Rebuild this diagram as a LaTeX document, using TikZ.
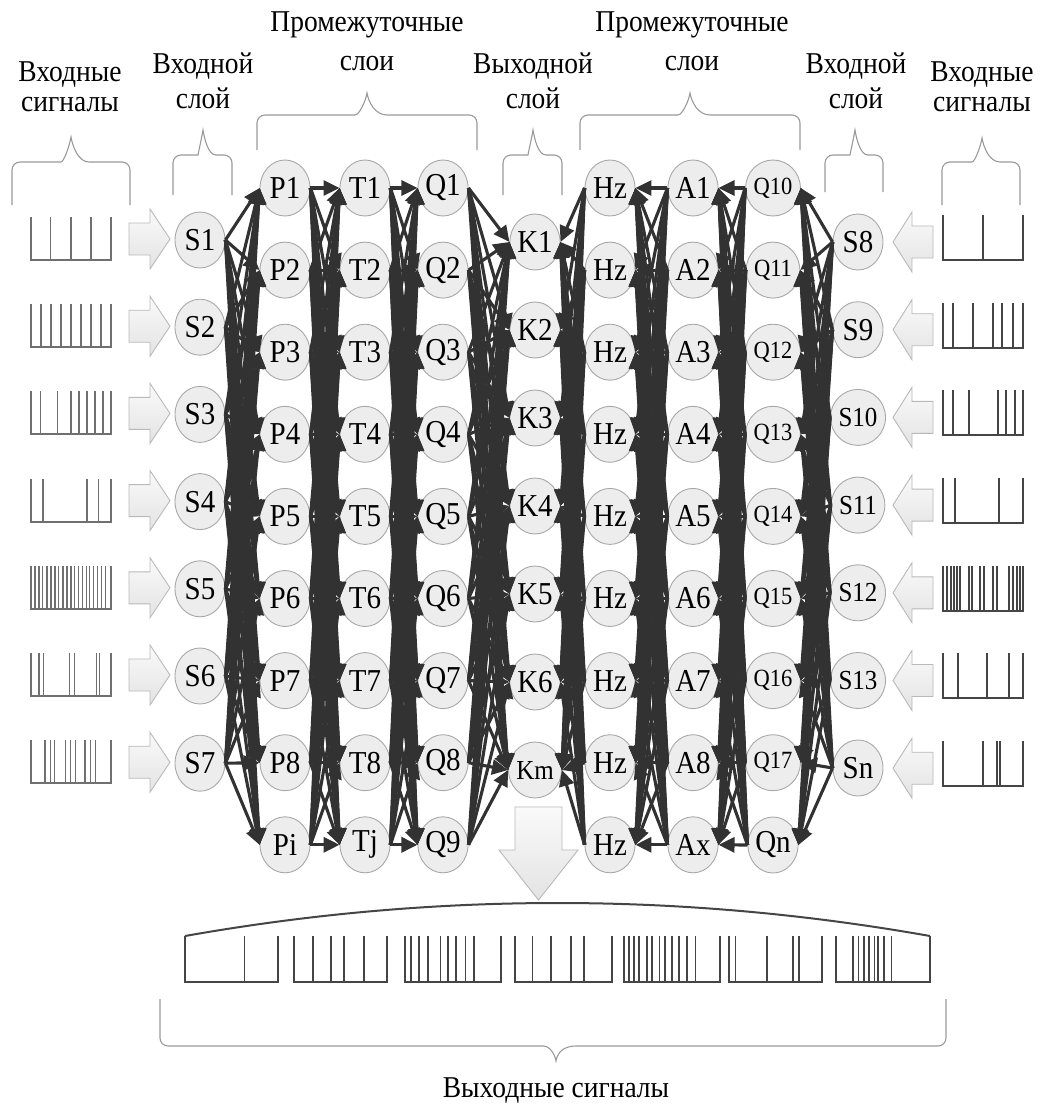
\documentclass[tikz,border=0pt]{standalone}
\usepackage{fontspec}
\setmainfont{Liberation Serif}
\usepackage{graphicx}
\usetikzlibrary{arrows.meta,shapes.geometric}
\definecolor{edgec}{HTML}{323232}
\definecolor{nodefill}{HTML}{EDEDED}
\definecolor{nodeline}{HTML}{A8A8A8}
\definecolor{bracec}{HTML}{9A9A9A}
\definecolor{sigl}{HTML}{707070}
\definecolor{sigd}{HTML}{454545}
\newcommand{\vs}[1]{\scalebox{1}[1.1]{#1}}
\newcommand{\nf}{\fontsize{29}{30}\selectfont}
\newcommand{\nfm}{\fontsize{25}{28}\selectfont}
\newcommand{\nfs}{\fontsize{22.5}{26}\selectfont}
\newcommand{\hf}{\fontsize{27.5}{30}\selectfont}
% style, x0, width, ytop, ybot, spike fractions
\newcommand{\mypulse}[6]{%
  \draw[#1] (#2,#4) -- (#2,#5) -- ({#2+#3},#5) -- ({#2+#3},#4);
  \foreach \ff in {#6} {\draw[#1] ({#2+\ff*#3},#5) -- ({#2+\ff*#3},#4);}
}
% xl, xr, xc, ybot, yh, ypeak, halfwidth
\newcommand{\bracetop}[7]{%
  \draw[brace] (#1,#4) [rounded corners=8pt] -- (#1,#5) -- ({#3-#7},#5) [sharp corners]
    .. controls ({#3-#7*0.4},#5) and ({#3-1.5},{#6+9}) .. (#3,#6)
    .. controls ({#3+1.5},{#6+9}) and ({#3+#7*0.4},#5) .. ({#3+#7},#5)
    [rounded corners=8pt] -- (#2,#5) -- (#2,#4);
}
\begin{document}
\begin{tikzpicture}[x=1pt,y=-1pt,
  neuron/.style={ellipse, minimum width=50pt, minimum height=56pt, inner sep=0pt,
    fill=nodefill, draw=nodeline, line width=0.9pt, font=\nf},
  hdr/.style={anchor=base, inner sep=0pt, font=\hf},
  edge/.style={draw=edgec, line width=3.1pt, -{Triangle[length=16pt,width=15pt]}},
  brace/.style={draw=bracec, line width=1.1pt},
  sigL/.style={draw=sigl, line width=1.3pt},
  sigR/.style={draw=sigd, line width=2pt},
  sigB/.style={draw=sigd, line width=1.8pt},
  blockarr/.style={draw=gray!55, line width=0.9pt, top color=gray!4, bottom color=gray!22}]
\useasboundingbox (0,0) rectangle (1045,1111);

% ---------- headers ----------
\node[hdr] (hA1) at (70,81) {\vs{Входные}};
\node[hdr] (hA2) at (70,111) {\vs{сигналы}};
\node[hdr] (hB1) at (203,73) {\vs{Входной}};
\node[hdr] (hB2) at (203,108) {\vs{слой}};
\node[hdr] (hC1) at (367,31) {\vs{Промежуточные}};
\node[hdr] (hC2) at (367,70) {\vs{слои}};
\node[hdr] (hD1) at (533,73) {\vs{Выходной}};
\node[hdr] (hD2) at (533,108) {\vs{слой}};
\node[hdr] (hE1) at (692,31) {\vs{Промежуточные}};
\node[hdr] (hE2) at (692,70) {\vs{слои}};
\node[hdr] (hF1) at (856,73) {\vs{Входной}};
\node[hdr] (hF2) at (856,108) {\vs{слой}};
\node[hdr] (hG1) at (982,81) {\vs{Входные}};
\node[hdr] (hG2) at (982,111) {\vs{сигналы}};
\node[hdr] (hOut) at (556,1097) {\vs{Выходные сигналы}};

% ---------- braces ----------
\bracetop{12}{130}{71}{205}{162}{137}{18}
\bracetop{173}{232}{203}{195}{155}{130}{13}
\bracetop{257}{477}{367}{150}{115}{93}{20}
\bracetop{503}{562}{533}{195}{155}{130}{13}
\bracetop{580}{800}{690}{150}{115}{93}{20}
\bracetop{825}{883}{855}{192}{155}{130}{13}
\bracetop{942}{1020}{982}{205}{162}{138}{18}
\draw[brace] (160,999) [rounded corners=8pt] -- (160,1046) -- (536,1046) [sharp corners]
  .. controls (548,1046) and (554.5,1052) .. (556,1061)
  .. controls (557.5,1052) and (564,1046) .. (576,1046)
  [rounded corners=8pt] -- (946,1046) -- (946,999);

% ---------- neurons ----------
\foreach \i/\t in {1/S1,2/S2,3/S3,4/S4,5/S5,6/S6,7/S7}
  \node[neuron] (s\i) at (200,{240+87.2*(\i-1)}) {\vs{\t}};
\foreach \i/\t in {1/P1,2/P2,3/P3,4/P4,5/P5,6/P6,7/P7,8/P8,9/Pi}
  \node[neuron] (p\i) at (285,{188+82.1*(\i-1)}) {\vs{\t}};
\foreach \i/\t in {1/T1,2/T2,3/T3,4/T4,5/T5,6/T6,7/T7,8/T8,9/Tj}
  \node[neuron] (t\i) at (365,{188+82.1*(\i-1)}) {\vs{\t}};
\foreach \i/\t in {1/Q1,2/Q2,3/Q3,4/Q4,5/Q5,6/Q6,7/Q7,8/Q8,9/Q9}
  \node[neuron] (q\i) at (443,{188+82.1*(\i-1)}) {\vs{\t}};
\foreach \i/\t in {1/K1,2/K2,3/K3,4/K4,5/K5,6/K6}
  \node[neuron] (k\i) at (535,{242+88*(\i-1)}) {\vs{\t}};
\node[neuron, font=\nfm] (k7) at (535,770) {\vs{Km}};
\foreach \i in {1,...,9}
  \node[neuron] (h\i) at (610,{188+82.1*(\i-1)}) {\vs{Hz}};
\foreach \i/\t in {1/A1,2/A2,3/A3,4/A4,5/A5,6/A6,7/A7,8/A8,9/Ax}
  \node[neuron] (a\i) at (693,{188+82.1*(\i-1)}) {\vs{\t}};
\foreach \i/\t in {1/Q10,2/Q11,3/Q12,4/Q13,5/Q14,6/Q15,7/Q16,8/Q17}
  \node[neuron, font=\nfs] (r\i) at (773,{188+82.1*(\i-1)}) {\vs{\t}};
\node[neuron] (r9) at (773,845) {\vs{Qn}};
\foreach \i/\t in {1/S8,2/S9}
  \node[neuron] (u\i) at (858,{242+87.7*(\i-1)}) {\vs{\t}};
\foreach \i/\t in {3/S10,4/S11,5/S12,6/S13}
  \node[neuron, font=\nfm] (u\i) at (858,{242+87.7*(\i-1)}) {\vs{\t}};
\node[neuron] (u7) at (858,768) {\vs{Sn}};

% ---------- connections, left half (to the right) ----------
\foreach \i in {1,...,7}{\foreach \j in {1,...,9}{\draw[edge] (s\i.east) -- (p\j.west);}}
\foreach \i in {1,...,9}{\foreach \j in {1,...,9}{\draw[edge] (p\i.east) -- (t\j.west);}}
\foreach \i in {1,...,9}{\foreach \j in {1,...,9}{\draw[edge] (t\i.east) -- (q\j.west);}}
\foreach \i in {1,...,9}{\foreach \j in {1,...,7}{\draw[edge] (q\i.east) -- (k\j.west);}}
% ---------- connections, right half (to the left) ----------
\foreach \i in {1,...,7}{\foreach \j in {1,...,9}{\draw[edge] (u\i.west) -- (r\j.east);}}
\foreach \i in {1,...,9}{\foreach \j in {1,...,9}{\draw[edge] (r\i.west) -- (a\j.east);}}
\foreach \i in {1,...,9}{\foreach \j in {1,...,9}{\draw[edge] (a\i.west) -- (h\j.east);}}
\foreach \i in {1,...,9}{\foreach \j in {1,...,7}{\draw[edge] (h\i.west) -- (k\j.east);}}

% ---------- input block arrows ----------
\foreach \i in {1,...,7}{
  \pgfmathsetmacro\yy{240+87.2*(\i-1)-1}
  \draw[blockarr] (129,{\yy-16}) -- (150,{\yy-16}) -- (150,{\yy-30}) -- (170,\yy)
    -- (150,{\yy+30}) -- (150,{\yy+16}) -- (129,{\yy+16}) -- cycle;
}
\foreach \i in {1,...,7}{
  \pgfmathsetmacro\yy{242+87.7*(\i-1)}
  \draw[blockarr] (933,{\yy-16}) -- (912,{\yy-16}) -- (912,{\yy-30}) -- (893,\yy)
    -- (912,{\yy+30}) -- (912,{\yy+16}) -- (933,{\yy+16}) -- cycle;
}
\draw[blockarr] (515,807) -- (562,807) -- (562,850) -- (578,850) -- (538.5,900)
  -- (499,850) -- (515,850) -- cycle;

% ---------- input signals, left ----------
\mypulse{sigL}{31}{80}{217}{260}{0.24,0.5,0.75}
\mypulse{sigL}{31}{80}{304}{347}{0.125,0.25,0.375,0.5,0.625,0.75,0.875}
\mypulse{sigL}{31}{80}{391}{434}{0.12,0.33,0.5,0.6,0.7,0.8,0.9}
\mypulse{sigL}{31}{80}{479}{522}{0.15,0.70,0.84}
\mypulse{sigL}{31}{80}{566}{609}{0.05,0.1,0.145,0.2,0.25,0.3,0.345,0.4,0.45,0.5,0.54,0.59,0.64,0.69,0.735,0.78,0.83,0.88,0.935}
\mypulse{sigL}{31}{80}{653}{696}{0.10,0.16,0.48,0.54,0.82,0.86}
\mypulse{sigL}{31}{80}{740}{783}{0.175,0.24,0.29,0.43,0.49,0.56,0.675,0.74,0.81}

% ---------- input signals, right ----------
\mypulse{sigR}{943}{80}{215}{260}{0.5}
\mypulse{sigR}{943}{80}{303}{348}{0.125,0.375,0.625,0.74,0.87}
\mypulse{sigR}{943}{80}{390}{435}{0.125,0.33,0.69,0.79,0.9}
\mypulse{sigR}{943}{80}{478}{523}{0.15,0.70}
\mypulse{sigR}{943}{80}{566}{611}{0.05,0.10,0.14,0.18,0.21,0.32,0.36,0.46,0.51,0.62,0.67,0.83,0.88,0.92,0.96}
\mypulse{sigR}{943}{80}{653}{698}{0.19,0.55,0.83}
\mypulse{sigR}{943}{80}{741}{786}{0.50,0.67,0.71}

% ---------- output signals ----------
\draw[sigB, line width=2pt] (185,936) .. controls (433,892) and (682,892) .. (930,936);
\mypulse{sigB}{185}{93}{936}{982}{0.64}
\mypulse{sigB}{294}{93}{936}{982}{0.2,0.4,0.54,0.75}
\mypulse{sigB}{405}{96}{936}{982}{0.064,0.144,0.24,0.37,0.45,0.53,0.63,0.72}
\mypulse{sigB}{515}{97}{936}{982}{0.18,0.37,0.58,0.71}
\mypulse{sigB}{624}{96}{936}{982}{0.05,0.106,0.16,0.24,0.29,0.37,0.425,0.5,0.57,0.66,0.745}
\mypulse{sigB}{729}{93}{936}{982}{0.07,0.41,0.69,0.75}
\mypulse{sigB}{836}{94}{936}{982}{0.18,0.24,0.30,0.35,0.41,0.45,0.51,0.59}
\end{tikzpicture}
\end{document}
